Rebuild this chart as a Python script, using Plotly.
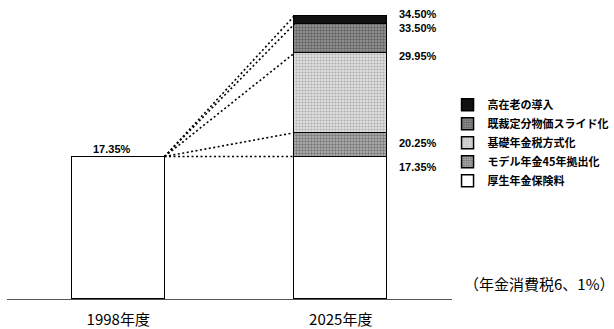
import plotly.graph_objects as go

# ---- data ----
categories = ["1998年度", "2025年度"]
series_names = ["厚生年金保険料", "モデル年金45年拠出化", "基礎年金税方式化",
                "既裁定分物価スライド化", "高在老の導入"]
# cumulative levels (%)
levels_1998 = [17.35]
levels_2025 = [17.35, 20.25, 29.95, 33.50, 34.50]
level_labels_2025 = ["17.35%", "20.25%", "29.95%", "33.50%", "34.50%"]
label_1998 = "17.35%"
note_text = "（年金消費税6、1%）"

# ---- style ----
fills = [
    dict(color="white"),
    dict(color="#a0a0a0", pattern=dict(shape=".", fgcolor="#3a3a3a", bgcolor="#b5b5b5", size=3, solidity=0.5)),
    dict(color="#c8c8c8", pattern=dict(shape=".", fgcolor="#777", bgcolor="#e0e0e0", size=3, solidity=0.4)),
    dict(color="#777", pattern=dict(shape=".", fgcolor="#2a2a2a", bgcolor="#999", size=3, solidity=0.5)),
    dict(color="#111"),
]
label_yshift = [-10, -10, -3, -4, 2]
bar_width = 0.416
num_font = dict(family="Liberation Sans, Arial", size=11, color="black", weight="bold")
jp_font = "Noto Sans CJK JP"

xpos = list(range(len(categories)))

fig = go.Figure()

# stacked increments derived from cumulative levels
all_levels = [levels_1998, levels_2025]
for i, name in enumerate(series_names):
    ys = []
    for lv in all_levels:
        if i < len(lv):
            ys.append(lv[i] - (lv[i - 1] if i > 0 else 0.0))
        else:
            ys.append(None)
    fill = fills[i]
    marker = dict(color=fill["color"], line=dict(color="black", width=1.5))
    if "pattern" in fill:
        marker["pattern"] = fill["pattern"]
    fig.add_trace(go.Bar(x=xpos, y=ys, name=name, width=bar_width, marker=marker))

# dotted connector lines from top-right of 1998 bar to each 2025 level
x_start = xpos[0] + bar_width / 2
x_end = xpos[1] - bar_width / 2
for lv in levels_2025:
    fig.add_trace(go.Scatter(x=[x_start, x_end], y=[levels_1998[-1], lv], mode="lines",
                             line=dict(color="black", width=1.6, dash="2px,2.5px"),
                             showlegend=False, hoverinfo="skip"))

annotations = []
for lv, txt, ys in zip(levels_2025, level_labels_2025, label_yshift):
    annotations.append(dict(x=x_end + bar_width, y=lv, text=txt, showarrow=False,
                            xanchor="left", yanchor="middle", xshift=10, yshift=ys,
                            font=num_font))
annotations.append(dict(x=xpos[0], y=levels_1998[-1], text=label_1998, showarrow=False,
                        xanchor="center", yanchor="bottom", xshift=-6, yshift=0, font=num_font))
annotations.append(dict(x=1.0, xref="paper", y=0, yref="y", text=note_text, showarrow=False,
                        xanchor="left", yanchor="middle", xshift=10, yshift=16,
                        font=dict(family=jp_font, size=15, color="black")))

fig.update_layout(
    width=614, height=329,
    margin=dict(l=6.6, r=162.4, t=5, b=29.5, autoexpand=False),
    paper_bgcolor="white", plot_bgcolor="white",
    barmode="stack", bargap=0,
    showlegend=True,
    legend=dict(x=0.99, xanchor="left", y=0.71, yanchor="top", traceorder="reversed",
                font=dict(family=jp_font, size=11, color="black", weight="bold"),
                itemwidth=30, bgcolor="rgba(0,0,0,0)", tracegroupgap=0, xref="paper"),
    annotations=annotations,
    xaxis=dict(range=[-0.5, 1.5], tickvals=xpos, ticktext=categories, showgrid=False,
               zeroline=False, showline=True, linecolor="#555", linewidth=1,
               ticks="", ticklabelstandoff=7,
               tickfont=dict(family=jp_font, size=15, color="black")),
    yaxis=dict(range=[0, 35.8], visible=False),
)

fig.write_html("out.html")
